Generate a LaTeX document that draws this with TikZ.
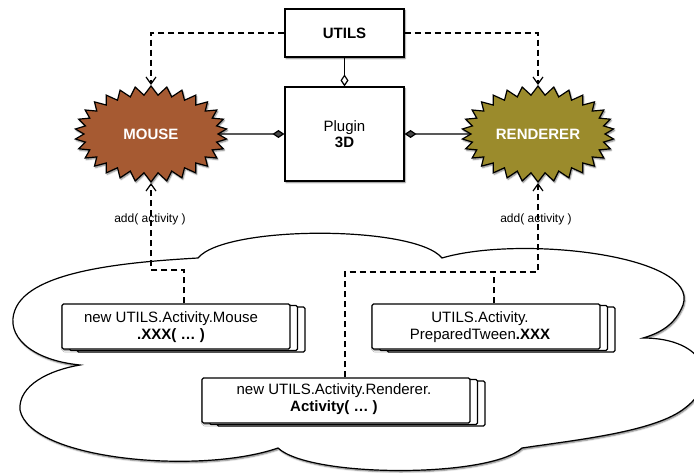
\documentclass[tikz,border=0pt]{standalone}
\usepackage{fontspec}
\setmainfont{Liberation Sans}
\usetikzlibrary{shapes.symbols,arrows.meta,shadows,shadows.blur,calc}
\definecolor{mousebrown}{RGB}{166,90,50}
\definecolor{rendolive}{RGB}{155,139,44}
\begin{document}
\begin{tikzpicture}[x=1pt,y=-1pt,line width=1.2pt,
  softshade/.style={blur shadow={shadow xshift=1pt,shadow yshift=-1.5pt,
      shadow blur radius=1.5pt,shadow opacity=55}},
  classbox/.style={draw,fill=white,softshade,inner sep=0pt,align=center,
      font=\fontsize{15}{17}\selectfont},
  burst/.style={starburst,random starburst=0,starburst points=30,
      starburst point height=9pt,draw,softshade,minimum width=152pt,
      minimum height=96pt,inner sep=0pt,text=white,
      font=\fontsize{15}{18}\selectfont\bfseries},
  actbox/.style={draw,fill=white,rounded corners=1.5pt,inner sep=0pt,
      minimum height=45pt,
      softshade,
      double copy shadow={shadow xshift=7.5pt,shadow yshift=-1.5pt,
        draw=black,fill=white}},
  acttext/.style={align=center,font=\fontsize{15}{17}\selectfont},
  dashes/.style={dash pattern=on 6pt off 4pt},
  conn/.style={dashes,-{Straight Barb[length=7pt,width=10pt]}},
  addlbl/.style={font=\fontsize{12}{14}\selectfont}]

\useasboundingbox (0,0) rectangle (694,473);

% the cloud holding the activities
\draw[fill=white,softshade] (198,258) .. controls (225,225) and (415,225) .. (442,258)
  .. controls (520,235) and (700,255) .. (683,305)
  .. controls (675,325) and (660,333) .. (643,338)
  .. controls (705,338) and (722,380) .. (685,408)
  .. controls (655,432) and (575,440) .. (522,448)
  .. controls (490,478) and (310,478) .. (278,448)
  .. controls (200,475) and (30,460) .. (20,410)
  .. controls (18,385) and (50,370) .. (80,365)
  .. controls (30,360) and (5,335) .. (15,310)
  .. controls (30,270) and (130,262) .. (198,258) -- cycle;

% classes
\node[classbox,minimum width=119pt,minimum height=48pt,
      font=\fontsize{15}{17}\selectfont\bfseries] (utils) at (344.5,33) {UTILS};
\node[classbox,minimum width=119pt,minimum height=94pt] (plugin) at (344.5,134)
  {Plugin\\[-1pt]\textbf{3D}};

\node[burst,fill=mousebrown] (mouse) at (151,134) {MOUSE};
\node[burst,fill=rendolive] (renderer) at (538,134) {RENDERER};

% activity stacks
\node[actbox,minimum width=228pt] (mbox) at (176,326.5) {};
\node[acttext] at (171,327.5) {new UTILS.Activity.Mouse\\\textbf{.XXX( … )}};

\node[actbox,minimum width=228pt] (pbox) at (486,326.5) {};
\node[acttext] at (480,327.5) {UTILS.Activity.\\PreparedTween\textbf{.XXX}};

\node[actbox,minimum width=268pt] (rbox) at (336,400.5) {};
\node[acttext] at (334,399.5) {new UTILS.Activity.Renderer.\\\textbf{Activity( … )}};

% relations between the classes
\draw[-{Diamond[open,length=12pt,width=8pt]}] (utils.south) -- (plugin.north);
\draw[-{Diamond[length=12pt,width=8pt]}] (mouse.east) -- (plugin.west);
\draw[-{Diamond[length=12pt,width=8pt]}] (renderer.west) -- (plugin.east);

\draw[conn] (utils.west) -| (mouse.north);
\draw[conn] (utils.east) -| (renderer.north);

% activities handed over with add()
\coordinate (mjoin) at (184,270);
\coordinate (rjoin) at (345,272);
\coordinate (pjoin) at (494,272);
\draw[conn] (mbox.north -| mjoin) -- (mjoin) -| (mouse.south);
\draw[conn] (rbox.north -| rjoin) -- (rjoin) -| (renderer.south);
\draw[dashes] (pbox.north -| pjoin) -- (pjoin);

\node[addlbl] (laddl) at (150,219.5) {add( activity )};
\node[addlbl] (laddr) at (536,219.5) {add( activity )};
\end{tikzpicture}
\end{document}
